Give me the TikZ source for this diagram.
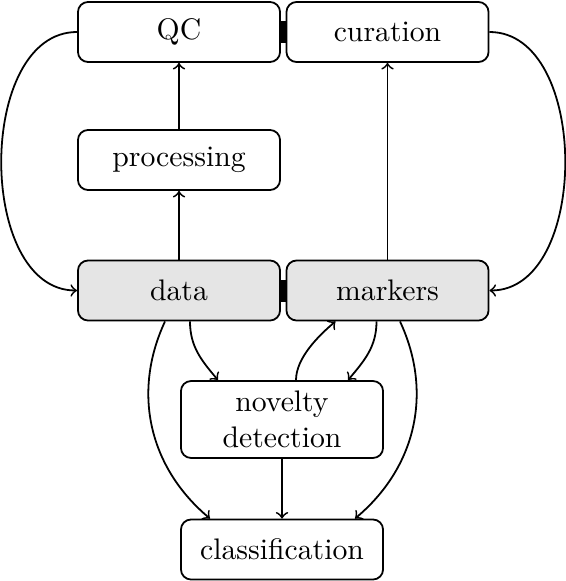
\documentclass[tikz,border=0pt]{standalone}
\usetikzlibrary{calc}
\tikzset{
  stage/.style={draw, rounded corners=3.4pt, semithick, minimum width=2.39cm, minimum height=0.71cm, align=center},
  inputs/.style={stage, fill=gray!20},
  flow/.style={->, semithick},
}
\begin{document}
\begin{tikzpicture}[x=0.01182cm, y=-0.01182cm, >=to, line join=round]
\useasboundingbox (0,0) rectangle (566,581);
% boxes
\node[stage] (qc) at (179,32) {QC};
\node[stage] (curation) at (387.5,32) {curation};
\node[stage] (processing) at (179,160) {processing};
\node[inputs] (data) at (179,290.5) {data};
\node[inputs] (markers) at (387.5,290.5) {markers};
\node[stage, minimum height=0.91cm] (novelty) at (282,419.5) {novelty\\detection};
\node[stage] (classification) at (282,549.5) {classification};
% links between neighbours
\fill ($(qc.east)+(0,-11)$) rectangle ($(curation.west)+(0,11)$);
\fill ($(data.east)+(0,-11)$) rectangle ($(markers.west)+(0,11)$);
% arrows
\draw[flow] (data.north) -- (processing.south);
\draw[flow] (processing.north) -- (qc.south);
\draw[flow] (markers.north) -- (curation.south);
\draw[flow] (qc.west) to[out=180,in=180] (data.west);
\draw[flow] (curation.east) to[out=0,in=0] (markers.east);
\draw[flow] ($(data.south)+(11,0)$) to[out=-90,in=130] ($(novelty.north)+(-64,0)$);
\draw[flow] ($(markers.south)+(-11,0)$) to[out=-90,in=50] ($(novelty.north)+(66,0)$);
\draw[flow] ($(novelty.north)+(14,0)$) to[out=90,in=-140,looseness=0.8] ($(markers.south)+(-52,0)$);
\draw[flow] ($(data.south)+(-14,0)$) to[out=-115,in=140] ($(classification.north)+(-72,0)$);
\draw[flow] ($(markers.south)+(12.5,0)$) to[out=-65,in=40] ($(classification.north)+(73,0)$);
\draw[flow] (novelty.south) -- (classification.north);
\end{tikzpicture}
\end{document}
